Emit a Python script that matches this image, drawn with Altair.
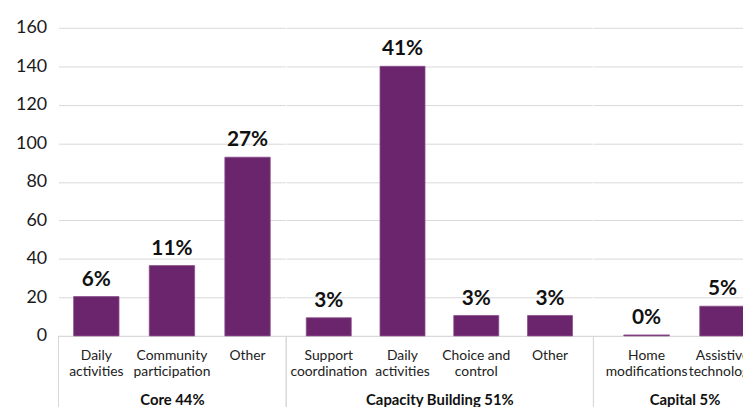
import altair as alt
import pandas as pd

groups = ["Core", "Core", "Core",
          "Capacity Building", "Capacity Building", "Capacity Building", "Capacity Building",
          "Capital", "Capital"]
categories = ["Daily\nactivities", "Community\nparticipation", "Other",
              "Support\ncoordination", "Daily\nactivities", "Choice and\ncontrol", "Other",
              "Home\nmodifications", "Assistive\ntechnology"]
values = [20.4, 36.5, 92.8, 9.4, 140.0, 10.6, 10.6, 0.5, 15.4]
pct_labels = ["6%", "11%", "27%", "3%", "41%", "3%", "3%", "0%", "5%"]
group_names = ["Core", "Capacity Building", "Capital"]
group_titles = ["Core 44%", "Capacity Building 51%", "Capital 5%"]
y_ticks = [0, 20, 40, 60, 80, 100, 120, 140, 160]

df = pd.DataFrame({
    "group": groups,
    "category": categories,
    "value": values,
    "pct": pct_labels,
    "order": list(range(len(categories))),
})

PURPLE = "#6a256c"
GRID = "#d9d9d9"
H = 311

panel_layout = {
    "Core": (229, 0.4, 0.2),
    "Capacity Building": (309, 0.39, 0.27),
    "Capital": (184, 0.4, 0.4),
}


def panel(g, title, first):
    width, pi, po = panel_layout[g]
    base = alt.Chart(df).transform_filter(alt.datum.group == g)
    x = alt.X(
        "category:N",
        sort=alt.SortField("order"),
        scale=alt.Scale(paddingInner=pi, paddingOuter=po),
        axis=alt.Axis(
            title=title,
            labelAngle=0,
            ticks=False,
            labelPadding=13,
            labelFontSize=14,
            labelLineHeight=16,
            labelColor="#222222",
            labelExpr="split(datum.label, '\\n')",
            titleFontSize=15,
            titleFontWeight="bold",
            titleColor="#111111",
            titlePadding=14,
            domainColor=GRID,
        ),
    )
    if first:
        yaxis = alt.Axis(values=y_ticks, title=None, ticks=False, domain=False,
                         labelFontSize=18, labelPadding=12, labelColor="#1a1a1a",
                         gridColor=GRID)
    else:
        yaxis = alt.Axis(values=y_ticks, title=None, ticks=False, domain=False,
                         labels=False, gridColor=GRID)
    y = alt.Y("value:Q", scale=alt.Scale(domain=[0, 160]), axis=yaxis)

    bars = base.mark_bar(color=PURPLE, stroke="#8a4f8c", strokeWidth=0.8).encode(x=x, y=y)
    text = base.mark_text(baseline="bottom", dy=-7, fontSize=21, fontWeight="bold",
                          color="#111111").encode(x=x, y=y, text="pct:N")
    sep = base.mark_rule(color=GRID, strokeWidth=1).encode(
        x=alt.value(0), y=alt.value(H), y2=alt.value(H + 90)
    )
    return alt.layer(bars, text, sep).properties(width=width, height=H)


chart = alt.hconcat(
    *[panel(g, t, i == 0) for i, (g, t) in enumerate(zip(group_names, group_titles))],
    spacing=0,
).properties(
    padding={"top": 9, "left": 7, "right": -33, "bottom": 0}
).configure(font="Lato").configure_view(stroke=None).configure_concat(spacing=0)

chart.save("out.html", embed_options={"renderer": "svg", "actions": False})
